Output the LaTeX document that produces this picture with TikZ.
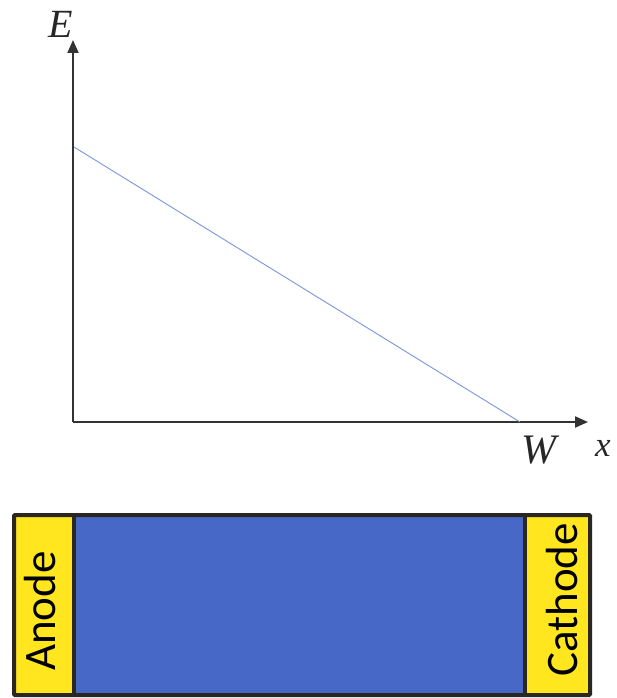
\documentclass[tikz,border=0pt]{standalone}
\usepackage{fontspec}
\setmainfont{Liberation Serif}
\newfontfamily\labelfont{Carlito}
\usetikzlibrary{arrows.meta}
\definecolor{axisgray}{HTML}{333333}
\definecolor{linecol}{HTML}{7A96DA}
\definecolor{cellblue}{HTML}{4868C8}
\definecolor{cellyellow}{HTML}{FFE61E}
\definecolor{framecol}{HTML}{2A2622}
\tikzset{
  axis/.style={draw=axisgray, line width=2pt, -{Triangle[length=13pt,width=11pt]}},
  axlabel/.style={inner sep=0pt, text=black!85},
  elec/.style={inner sep=0pt, rotate=90, anchor=base, text=black},
}
\begin{document}
\begin{tikzpicture}[x=1pt,y=-1pt]
\useasboundingbox (0,0) rectangle (617,698);
\coordinate (O) at (73,422);
\coordinate (ytop) at (73,40);
\coordinate (xend) at (588,422);
\coordinate (Estart) at (74,147);
\coordinate (Wpt) at (520,422);
\draw[axis] (O) -- (ytop);
\draw[axis] (O) -- (xend);
\draw[linecol, line width=0.9pt] (Estart) -- (Wpt);
\node[axlabel, font=\fontsize{40}{44}\selectfont\itshape] (E) at (61,24) {E};
\node[axlabel, font=\fontsize{42}{46}\selectfont\itshape] (W) at (539,450) {W};
\node[axlabel, font=\fontsize{35}{38}\selectfont\itshape] (X) at (603,448) {x};
% cell
\fill[cellyellow] (14,515) rectangle (74,695);
\fill[cellblue] (74,515) rectangle (525,695);
\fill[cellyellow] (525,515) rectangle (590,695);
\draw[framecol, line width=4pt] (74,515) -- (74,695);
\draw[framecol, line width=4pt] (525,515) -- (525,695);
\draw[framecol, line width=4pt, rounded corners=1pt] (14,515) rectangle (590,695);
\node[elec, font=\labelfont\fontsize{45}{50}\selectfont] (anode) at (55,611) {Anode};
\node[elec, font=\labelfont\fontsize{45}{50}\selectfont] (cathode) at (577,600) {Cathode};
\end{tikzpicture}
\end{document}
